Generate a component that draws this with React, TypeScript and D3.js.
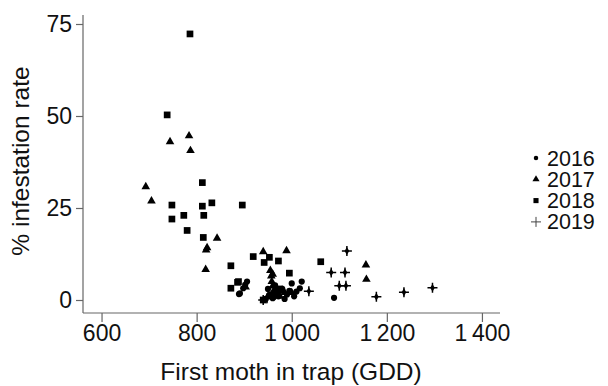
import React, { useEffect, useRef } from 'react';
import * as d3 from 'd3';

// values: [GDD, % infestation]
const pts2016: [number, number][] = [
  [889, 1.6], [891, 1.8], [898, 3.2], [902, 4.1], [906, 5], [945, 0.3], [950, 3],
  [955, 1.5], [960, 0.5], [965, 4], [968, 2.5], [972, 1], [980, 3], [985, 0.3],
  [990, 1.5], [995, 2.5], [1000, 4.5], [1005, 1], [1010, 2.3], [1017, 3.2],
  [1021, 5], [1089, 0.6],
];
const pts2017: [number, number][] = [
  [693, 30.8], [705, 26.9], [744, 43], [784, 44.6], [787, 40.6], [843, 16.8],
  [820, 13.6], [822, 14.2], [819, 8.3], [1156, 9.5], [1157, 5.6], [940, 13.1],
  [989, 13.4], [955, 8], [957, 6.5], [958, 5], [960, 3.8], [962, 2.5], [965, 1.5],
  [975, 1], [985, 2], [950, 1], [960, 7], [903, 3.5], [1000, 2],
];
const pts2018: [number, number][] = [
  [738, 50.3], [786, 72.3], [748, 25.8], [748, 22], [773, 23], [780, 18.9],
  [812, 31.9], [812, 25.5], [832, 26.4], [815, 23], [814, 17], [872, 9.3],
  [872, 3.2], [886, 4.8], [888, 5], [896, 25.8], [919, 11.8], [942, 10.2],
  [953, 11.6], [972, 10.6], [995, 7.3], [1061, 10.4], [940, 0], [975, 3], [960, 1],
];
const pts2019: [number, number][] = [
  [940, 0], [948, 0.5], [970, 2], [1036, 2.4], [1083, 7.5], [1112, 7.5],
  [1116, 13.3], [1100, 3.9], [1114, 3.9], [1178, 0.9], [1236, 2.1], [1296, 3.3],
];
const years = ['2016', '2017', '2018', '2019'];
const xTicks = [600, 800, 1000, 1200, 1400];
const yTicks = [0, 25, 50, 75];

const W = 608, H = 386;
const FONT = 'Liberation Sans, Arial, sans-serif';

const App = () => {
  const ref = useRef<SVGSVGElement>(null);

  useEffect(() => {
    const svg = d3.select(ref.current);
    svg.selectAll('*').remove();

    const x = d3.scaleLinear().domain([561, 1438]).range([83, 500]);
    const y = d3.scaleLinear().domain([0, 75]).range([300, 24]);

    const xAxis = d3.axisBottom(x).tickValues(xTicks).tickSize(9).tickPadding(3)
      .tickFormat(d => d3.format(',')(d as number).replace(',', '\u2009'));
    const yAxis = d3.axisLeft(y).tickValues(yTicks).tickSize(7).tickPadding(4);

    const gx = svg.append('g').attr('transform', 'translate(0,313)').call(xAxis);
    gx.select('.domain').attr('d', 'M83,0H500');
    const gy = svg.append('g').attr('transform', 'translate(83,0)').call(yAxis);
    gy.select('.domain').attr('d', 'M0,15V313');

    [gx, gy].forEach(g => {
      g.selectAll('path, line').attr('stroke', '#666').attr('stroke-width', 1.2);
      g.selectAll('text').attr('font-family', FONT).attr('font-size', 23).attr('fill', '#111');
    });

    svg.append('text')
      .attr('x', 291).attr('y', 380)
      .attr('text-anchor', 'middle')
      .attr('font-family', FONT).attr('font-size', 24.5).attr('fill', '#111')
      .text('First moth in trap (GDD)');
    svg.append('text')
      .attr('transform', 'translate(29,161) rotate(-90)')
      .attr('text-anchor', 'middle')
      .attr('font-family', FONT).attr('font-size', 24.5).attr('fill', '#111')
      .text('% infestation rate');

    const sym = [
      d3.symbol(d3.symbolCircle, 30),
      d3.symbol(d3.symbolTriangle, 32),
      d3.symbol(d3.symbolSquare, 45),
    ];
    const series = [pts2016, pts2017, pts2018];
    const plot = svg.append('g');
    series.forEach((pts, i) => {
      plot.selectAll(null)
        .data(pts)
        .enter().append('path')
        .attr('d', sym[i]())
        .attr('transform', d => `translate(${x(d[0])},${y(d[1])})`)
        .attr('fill', '#000');
    });
    // 2019: plus with a small filled centre
    const plus = plot.selectAll(null).data(pts2019).enter().append('g')
      .attr('transform', d => `translate(${x(d[0])},${y(d[1])})`);
    plus.append('path').attr('d', 'M-5,0H5M0,-5V5').attr('stroke', '#000').attr('stroke-width', 1.5);
    plus.append('path').attr('d', d3.symbol(d3.symbolDiamond, 18)()).attr('fill', '#000');

    // legend
    const leg = svg.append('g');
    const legSym = [
      d3.symbol(d3.symbolCircle, 16)(),
      d3.symbol(d3.symbolTriangle, 22)(),
      d3.symbol(d3.symbolSquare, 26)(),
    ];
    years.forEach((yr, i) => {
      const cy = 158 + i * 21.3;
      if (i < 3) {
        leg.append('path').attr('d', legSym[i]).attr('transform', `translate(536,${cy})`).attr('fill', '#000');
      } else {
        leg.append('path').attr('d', `M531,${cy}H541M536,${cy - 5}V${cy + 5}`).attr('stroke', '#444').attr('stroke-width', 1);
      }
      leg.append('text').attr('x', 547).attr('y', cy + 7.5)
        .attr('font-family', FONT).attr('font-size', 21.5).attr('fill', '#111').text(yr);
    });
  }, []);

  return (
    <svg ref={ref} width={W} height={H}
      style={{ position: 'absolute', left: 0, top: 0, background: '#fff' }} />
  );
};

export default App;
